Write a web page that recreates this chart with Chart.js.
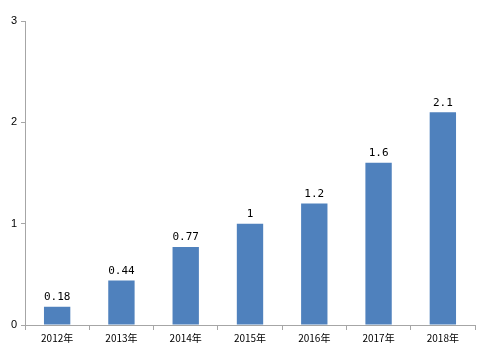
<!DOCTYPE html>
<html><head><meta charset="utf-8">
<script src="https://cdn.jsdelivr.net/npm/chart.js@4"></script>
<style>html,body{margin:0;padding:0;background:#fff}#wrap{width:488px;height:358px}</style>
</head><body><div id="wrap"><canvas id="c" width="488" height="358"></canvas></div>
<script>
const categories = ["2012年","2013年","2014年","2015年","2016年","2017年","2018年"];
const values = [0.18,0.44,0.77,1,1.2,1.6,2.1];
const valueLabels = ["0.18","0.44","0.77","1","1.2","1.6","2.1"];
const yTicks = [0,1,2,3];

const labelPlugin = {
  id:'vlabels',
  afterDatasetsDraw(chart){
    const ctx = chart.ctx;
    const meta = chart.getDatasetMeta(0);
    ctx.save();
    ctx.font = '11px "DejaVu Sans Mono", monospace';
    ctx.fillStyle = '#000';
    ctx.textAlign = 'center';
    ctx.textBaseline = 'bottom';
    meta.data.forEach((bar,i)=>{ ctx.fillText(valueLabels[i], bar.x, bar.y - 4); });
    ctx.restore();
  }
};

new Chart(document.getElementById('c'), {
  type:'bar',
  data:{labels:categories, datasets:[{data:values, backgroundColor:'#4F81BD', borderColor:'#4A7EBB', borderWidth:0, barPercentage:0.41, categoryPercentage:1}]},
  options:{
    responsive:false, animation:false,
    layout:{padding:{left:0,right:13,top:21,bottom:0}},
    plugins:{legend:{display:false}, tooltip:{enabled:false}},
    scales:{
      x:{
        grid:{drawOnChartArea:false, tickLength:5, color:'#A6A6A6', offset:true},
        border:{color:'#A6A6A6', width:1},
        ticks:{color:'#000', font:{family:'"Noto Sans CJK SC", sans-serif', size:10}, padding:2, maxRotation:0},
        afterFit(s){ s.height = 33; }
      },
      y:{
        min:0, max:3,
        afterBuildTicks(s){ s.ticks = yTicks.map(v=>({value:v})); },
        grid:{drawOnChartArea:false, tickLength:4, color:'#A6A6A6'},
        border:{color:'#A6A6A6', width:1},
        ticks:{color:'#000', font:{family:'"Liberation Sans", Arial, sans-serif', size:11}, padding:4},
        afterFit(s){ s.width = 25; }
      }
    }
  },
  plugins:[labelPlugin]
});
</script></body></html>
